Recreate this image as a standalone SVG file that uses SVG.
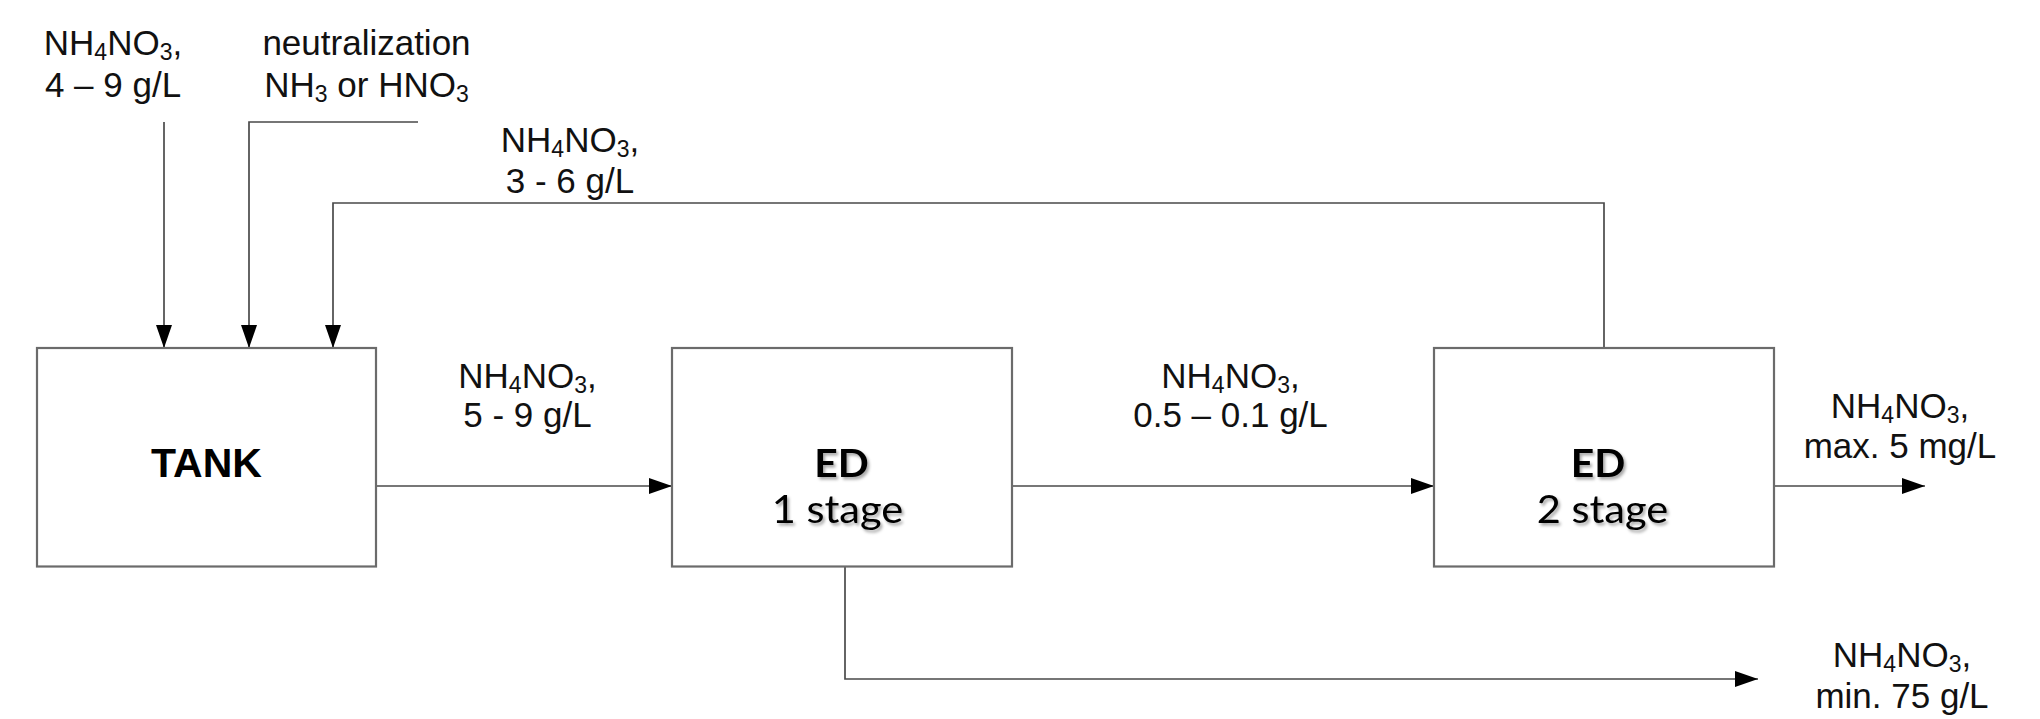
<svg xmlns="http://www.w3.org/2000/svg" width="2040" height="719" viewBox="0 0 2040 719">
<style>
.box{fill:#fff;stroke:#6b6b6b;stroke-width:2.2}
.con{fill:none;stroke:#4a4a4a;stroke-width:1.7}
.lbl{font-family:"Liberation Sans",Arial,sans-serif;font-size:35px;fill:#111;text-anchor:middle}
.tank{font-family:"Liberation Sans",Arial,sans-serif;font-size:41px;font-weight:bold;fill:#000;text-anchor:middle}
.ed{font-family:Lato,"Open Sans",sans-serif;font-size:38px;fill:#000;text-anchor:middle}
.edb{font-weight:bold}
</style>
<defs>
<marker id="arr" markerUnits="userSpaceOnUse" markerWidth="24" markerHeight="16" refX="23" refY="8" orient="auto">
<path d="M0,0 L23,8 L0,16 Z" fill="#000"/>
</marker>
<filter id="sh" x="-20%" y="-20%" width="140%" height="150%">
<feDropShadow dx="2" dy="2.5" stdDeviation="1.6" flood-color="#000" flood-opacity="0.35"/>
</filter>
</defs>

<g id="connectors">
<path class="con" d="M164,122 V348" marker-end="url(#arr)"/>
<path class="con" d="M418,122 H249 V348" marker-end="url(#arr)"/>
<path class="con" d="M1604,348 V203 H333 V348" marker-end="url(#arr)"/>
<path class="con" d="M376,486 H672" marker-end="url(#arr)"/>
<path class="con" d="M1012,486 H1434" marker-end="url(#arr)"/>
<path class="con" d="M1774,486 H1925" marker-end="url(#arr)"/>
<path class="con" d="M845,567 V679 H1758" marker-end="url(#arr)"/>
</g>

<g id="tank">
<rect class="box" x="37" y="348" width="339" height="218.5"/>
<text class="tank" x="206.5" y="477">TANK</text>
</g>

<g id="ed1">
<rect class="box" x="672" y="348" width="340" height="218.5"/>
<g filter="url(#sh)">
<text class="ed edb" x="841.5" y="476.5" textLength="54.5" lengthAdjust="spacingAndGlyphs">ED</text>
<text class="ed" x="837.5" y="522.5" textLength="131.5" lengthAdjust="spacingAndGlyphs">1 stage</text>
</g>
</g>

<g id="ed2">
<rect class="box" x="1434" y="348" width="340" height="218.5"/>
<g filter="url(#sh)">
<text class="ed edb" x="1598" y="476.5" textLength="54.5" lengthAdjust="spacingAndGlyphs">ED</text>
<text class="ed" x="1602.5" y="522.5" textLength="131.5" lengthAdjust="spacingAndGlyphs">2 stage</text>
</g>
</g>

<g id="label-feed">
<text class="lbl" x="113" y="55">NH<tspan font-size="23" dy="5">4</tspan><tspan dy="-5">NO</tspan><tspan font-size="23" dy="5">3</tspan><tspan dy="-5">,</tspan></text>
<text class="lbl" x="113" y="96.5">4 – 9 g/L</text>
</g>

<g id="label-neutralization">
<text class="lbl" x="366.5" y="55">neutralization</text>
<text class="lbl" x="366.5" y="96.5">NH<tspan font-size="23" dy="5">3</tspan><tspan dy="-5"> or HNO</tspan><tspan font-size="23" dy="5">3</tspan></text>
</g>

<g id="label-recycle">
<text class="lbl" x="570" y="151.5">NH<tspan font-size="23" dy="5">4</tspan><tspan dy="-5">NO</tspan><tspan font-size="23" dy="5">3</tspan><tspan dy="-5">,</tspan></text>
<text class="lbl" x="570" y="192.5">3 - 6 g/L</text>
</g>

<g id="label-tank-out">
<text class="lbl" x="527.5" y="388">NH<tspan font-size="23" dy="5">4</tspan><tspan dy="-5">NO</tspan><tspan font-size="23" dy="5">3</tspan><tspan dy="-5">,</tspan></text>
<text class="lbl" x="527.5" y="427">5 - 9 g/L</text>
</g>

<g id="label-ed1-out">
<text class="lbl" x="1230.5" y="388">NH<tspan font-size="23" dy="5">4</tspan><tspan dy="-5">NO</tspan><tspan font-size="23" dy="5">3</tspan><tspan dy="-5">,</tspan></text>
<text class="lbl" x="1230.5" y="427">0.5 – 0.1 g/L</text>
</g>

<g id="label-ed2-out">
<text class="lbl" x="1900" y="418">NH<tspan font-size="23" dy="5">4</tspan><tspan dy="-5">NO</tspan><tspan font-size="23" dy="5">3</tspan><tspan dy="-5">,</tspan></text>
<text class="lbl" x="1900" y="458">max. 5 mg/L</text>
</g>

<g id="label-concentrate">
<text class="lbl" x="1902" y="667">NH<tspan font-size="23" dy="5">4</tspan><tspan dy="-5">NO</tspan><tspan font-size="23" dy="5">3</tspan><tspan dy="-5">,</tspan></text>
<text class="lbl" x="1902" y="708">min. 75 g/L</text>
</g>
</svg>
